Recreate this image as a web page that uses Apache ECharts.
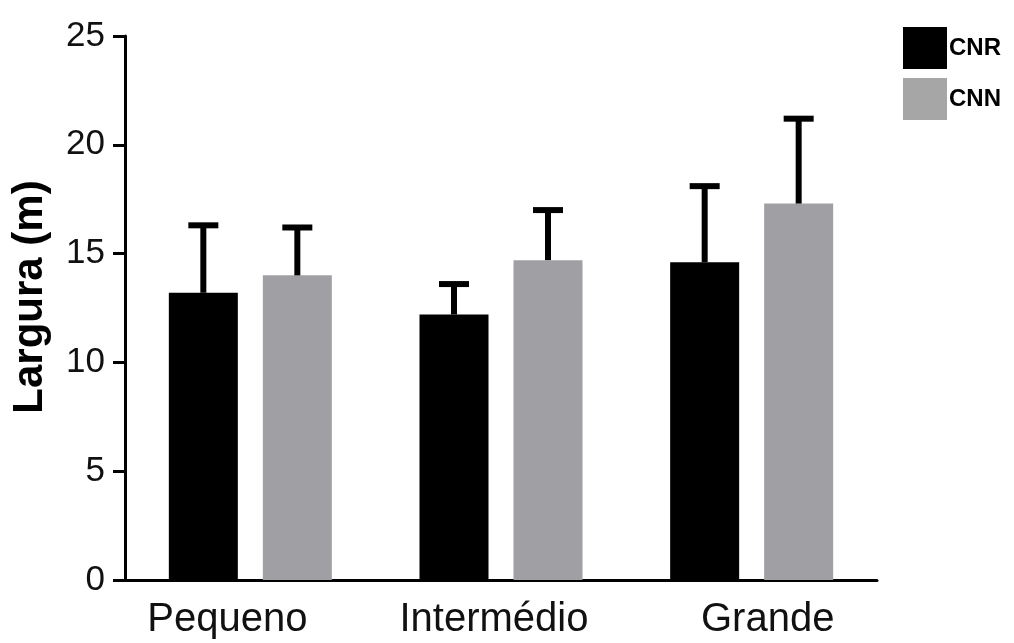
<!DOCTYPE html>
<html>
<head>
<meta charset="utf-8">
<script src="https://cdn.jsdelivr.net/npm/echarts@6/dist/echarts.min.js"></script>
<style>
  html, body { margin: 0; padding: 0; background: #fff; }
  #chart { width: 1014px; height: 643px; }
</style>
</head>
<body>
<div id="chart"></div>
<script>
// Mean width per size class, with one standard deviation drawn above each bar
const categories = ['Pequeno', 'Intermédio', 'Grande'];
const cnrMean = [13.2, 12.2, 14.6];
const cnrSd = [3.1, 1.4, 3.5];
const cnnMean = [14.0, 14.7, 17.3];
const cnnSd = [2.2, 2.3, 3.9];
const yTicks = [0, 5, 10, 15, 20, 25];

const BAR_WIDTH = 69;
const BAR_GAP = 25;
const FONT = '"Liberation Sans", Arial, Helvetica, sans-serif';
const GREY = '#a09fa4';
// Horizontal nudges for the category captions
const labelShift = [-23, -7, 16];

function errorSeries(name, means, sds, side) {
  const shift = side * (BAR_WIDTH + BAR_GAP) / 2;
  return {
    type: 'custom',
    name: name + ' SD',
    silent: true,
    z: 5,
    data: means.map((m, i) => [i, m, m + sds[i]]),
    renderItem: function (params, api) {
      const base = api.coord([api.value(0), api.value(1)]);
      const top = api.coord([api.value(0), api.value(2)]);
      const x = base[0] + shift;
      const style = { stroke: '#000', lineWidth: 6, fill: null };
      return {
        type: 'group',
        children: [
          { type: 'line', shape: { x1: x, y1: base[1], x2: x, y2: top[1] }, style: style },
          { type: 'line', shape: { x1: x - 15, y1: top[1], x2: x + 15, y2: top[1] }, style: style }
        ]
      };
    }
  };
}

const chart = echarts.init(document.getElementById('chart'));
chart.setOption({
  animation: false,
  backgroundColor: '#fff',
  grid: { left: 125, right: 137, top: 36, bottom: 63, containLabel: false },
  legend: {
    orient: 'vertical',
    left: 898,
    top: 22,
    icon: 'rect',
    itemWidth: 44,
    itemHeight: 42,
    itemGap: 9,
    textStyle: { fontFamily: FONT, fontWeight: 'bold', fontSize: 24, color: '#000', padding: [0, 0, 0, -3] },
    data: [
      { name: 'CNR', itemStyle: { color: '#000' } },
      { name: 'CNN', itemStyle: { color: '#a6a6a6' } }
    ]
  },
  xAxis: {
    type: 'category',
    data: categories.map((c, i) => ({
      value: c,
      textStyle: {
        padding: labelShift[i] < 0 ? [0, -2 * labelShift[i], 0, 0] : [0, 0, 0, 2 * labelShift[i]]
      }
    })),
    axisLine: { lineStyle: { color: '#000', width: 3 } },
    axisTick: { alignWithLabel: true, length: 14, lineStyle: { color: '#000', width: 3 } },
    axisLabel: { margin: 20, fontFamily: FONT, fontSize: 40, color: '#111' },
    splitLine: { show: false }
  },
  yAxis: {
    type: 'value',
    min: yTicks[0],
    max: yTicks[yTicks.length - 1],
    interval: 5,
    name: 'Largura (m)',
    nameLocation: 'middle',
    nameGap: 74,
    nameTextStyle: { fontFamily: FONT, fontWeight: 'bold', fontSize: 42, color: '#000', padding: [0, 0, 0, 22] },
    axisLine: { show: true, lineStyle: { color: '#000', width: 3 } },
    axisTick: { show: true, length: 12, lineStyle: { color: '#000', width: 3 } },
    axisLabel: { margin: 20, fontFamily: FONT, fontSize: 35, color: '#111' },
    splitLine: { show: false }
  },
  series: [
    {
      name: 'CNR', type: 'bar', data: cnrMean,
      barWidth: BAR_WIDTH, barGap: (BAR_GAP / BAR_WIDTH * 100) + '%',
      itemStyle: { color: '#000' }
    },
    {
      name: 'CNN', type: 'bar', data: cnnMean,
      barWidth: BAR_WIDTH,
      itemStyle: { color: GREY }
    },
    errorSeries('CNR', cnrMean, cnrSd, -1),
    errorSeries('CNN', cnnMean, cnnSd, 1)
  ]
});
</script>
</body>
</html>
